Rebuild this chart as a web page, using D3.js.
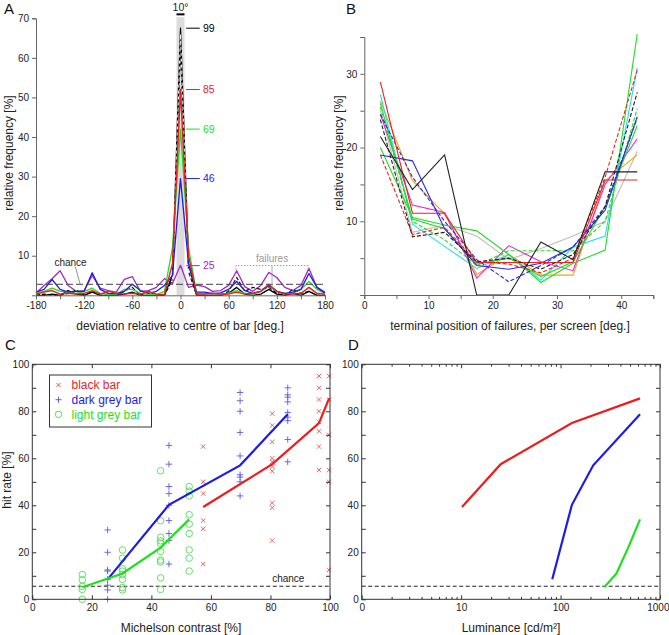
<!DOCTYPE html>
<html>
<head>
<meta charset="utf-8">
<script src="https://cdn.jsdelivr.net/npm/d3@7"></script>
<style>
  body { margin: 0; background: #fff; }
  svg { font-family: "Liberation Sans", Arial, sans-serif; }
  .tick text { font-size: 10px; fill: #222; }
  .axA path, .axA line { stroke: #666; }
  .box path, .box line { stroke: #333; }
</style>
</head>
<body>
<svg id="fig" width="669" height="635"></svg>
<script>
// ---- panel A: deviation histograms (10 deg bins)
var angleBins = d3.range(-180, 181, 10);
var devBlack99 = [0, 0, 0.3, 0, 1.2, 0.3, 0, 0.8, 0, 0, 0, 0.3, 0.8, 0, 0, 0, 0, 5.0, 67.5, 8.0, 0, 0, 0, 0, 0.5, 2.0, 0.3, 0, 0.3, 1.5, 0.3, 0, 0.5, 0, 1.0, 0, 0];
var devBlackDash = [0, 0.3, 0, 0, 0.5, 1.3, 0, 1.0, 0, 0, 0, 1.0, 2.0, 0, 1.0, 0, 0, 4.0, 63.0, 6.0, 0, 0, 0, 0, 1.0, 4.5, 1.0, 2.0, 1.5, 2.0, 0.5, 0, 1.5, 0.5, 1.0, 0, 0];
var devWhiteDash = [null, null, null, null, null, null, null, null, null, null, null, null, null, null, null, null, null, 4.0, 66.0, 6.0, null, null, null, null, null, null, null, null, null, null, null, null, null, null, null, null, null];
var devPurple25 = [0.6, 2.5, 4.2, 6.2, 2.5, 1.0, 1.2, 5.0, 1.8, 1.2, 0.8, 4.0, 4.7, 1.0, 1.2, 2.0, 4.2, 3.0, 7.6, 2.0, 2.6, 2.2, 1.0, 1.2, 2.5, 6.2, 2.2, 1.0, 2.5, 5.8, 4.5, 2.0, 1.2, 2.5, 6.8, 2.0, 0.8];
var devBlue46 = [0.8, 1.5, 4.0, 1.5, 0.8, 1.0, 1.0, 5.7, 1.5, 0.5, 0.4, 1.0, 2.8, 1.2, 0.5, 1.0, 2.5, 5.0, 29.5, 8.0, 0.8, 0.8, 0.4, 0.6, 1.5, 3.5, 1.2, 0.5, 1.0, 2.5, 1.0, 0.5, 0.8, 1.5, 5.5, 2.0, 0.5];
var devGreen69 = [0.5, 1.0, 1.8, 1.0, 0.8, 0.5, 1.0, 1.8, 0.5, 0.3, 0.2, 1.5, 1.5, 0.5, 0.3, 0.2, 1.0, 12.0, 42.0, 12.0, 0.5, 0.5, 0.5, 0.3, 0.5, 1.2, 0.5, 0.3, 1.0, 2.5, 1.0, 0.5, 0.5, 1.5, 3.5, 1.5, 0.5];
var devRed85 = [0.3, 0.8, 1.2, 0.3, 0.5, 0.3, 0.5, 1.2, 0.3, 1.0, 0.5, 0.3, 0.5, 0.3, 1.0, 0.3, 0.2, 8.0, 52.0, 10.0, 0.3, 0.3, 0.5, 0.3, 0.3, 0.8, 0.3, 0.5, 1.0, 2.8, 1.0, 0.3, 0.3, 0.5, 2.0, 0.5, 0.3];
var peakLabels = ["99", "85", "69", "46", "25"];
var peakValues = [67.5, 52, 42, 29.5, 7.5];
var chanceA = 100 / 36;

// ---- panel B: terminal positions of failures
var termPos = [2.5, 7.5, 12.5, 17.5, 22.5, 27.5, 32.5, 37.5, 42.5];
var termGrey = [25.0, 8.5, 9.5, 8.0, 4.8, 6.3, 8.0, 10.0, 19.5];
var termOrange = [26.3, 15.5, 11.0, 2.8, 5.5, 2.7, 2.7, 15.5, 19.0];
var termMagenta = [24.5, 12.2, 11.2, 2.3, 6.7, 4.5, 3.3, 15.0, 21.2];
var termCyan = [27.2, 9.6, 6.6, 3.6, 5.5, 2.0, 6.5, 8.0, 30.8];
var termGreen1 = [20.0, 10.5, 9.5, 8.7, 5.5, 1.7, 4.3, 6.1, 35.4];
var termGreen2 = [26.0, 10.3, 9.0, 4.2, 5.0, 2.5, 4.5, 12.0, 23.0];
var termGreenDash = [25.5, 10.0, 7.5, 4.0, 6.0, 6.0, 6.0, 10.0, 25.3];
var termBlue = [19.0, 18.2, 9.0, 4.0, 3.5, 4.3, 6.5, 11.5, 24.2];
var termBlueDash = [24.5, 16.0, 10.0, 4.8, 1.8, 4.0, 6.5, 12.0, 24.0];
var termRed = [28.9, 11.1, 11.1, 4.4, 4.4, 4.4, 4.4, 15.6, 15.6];
var termRedDash = [19.0, 8.2, 9.2, 4.5, 4.2, 3.0, 5.0, 16.0, 30.5];
var termBlackDash = [23.8, 7.9, 8.5, 4.5, 5.0, 3.5, 5.5, 12.0, 27.5];
var termBlack = [21.5, 14.3, 19.0, 0, 0, 7.2, 4.8, 16.7, 16.7];

// ---- panel C: hit rate vs contrast
var blackBarContrast = [57.4, 80.6, 96.3, 99.7];
var blackBarHits = [[65, 50, 45, 33.5, 30, 15], [79, 74, 67, 60, 58.5, 56.5, 54.5, 41, 39, 25], [95, 90, 85, 80, 75.5, 71.5, 65, 55], [95, 85, 70, 55, 50, 12.5]];
var blackBarMean = [39.3, 57.5, 75, 85.5];
var darkBarContrast = [25.3, 45.9, 69.8, 85.8];
var darkBarHits = [[29.5, 20, 12.5, 12, 8.5, 6, 4, 0], [65.5, 57.5, 48, 45, 40, 33.5, 28, 25, 15], [88, 84.5, 80, 71, 61, 53, 52, 50, 44], [90, 87, 86, 84, 79.5, 77.5, 76, 68, 58.5]];
var darkBarMean = [8.5, 40.2, 57, 78.7];
var lightBarContrast = [16.8, 30.3, 43.1, 52.7];
var lightBarHits = [[10.5, 8.3, 5.5, 4.2, 0], [21, 17.5, 13, 12, 10.5, 8.5, 5, 4], [54.7, 33.4, 26.4, 24.9, 23.8, 20.4, 16.7, 15.9, 9.1, 4.2], [48, 46, 44, 36, 32, 28, 21, 17.5, 12]];
var lightBarMean = [5.1, 11, 22, 34];
var legendNames = ["black bar", "dark grey bar", "light grey bar"];
var chanceC = 100 / 18;

// ---- panel D: hit rate vs luminance
var blackBarLum = [10.2, 25, 130, 630];
var darkBarLum = [82.5, 130, 213, 630];
var lightBarLum = [275, 365, 479, 630];

var RED = "#ee1c1c", BLUE = "#1c1ce6", GREEN = "#1ee01e", PURPLE = "#a428c8";

var svg = d3.select("#fig");

function panelLetter(x, y, t) {
    svg.append("text").attr("x", x).attr("y", y).attr("font-size", 15).attr("fill", "#111").text(t);
}

// ================= A =================
(function () {
    var x = d3.scaleLinear().domain([-180, 180]).range([36, 325]);
    var y = d3.scaleLinear().domain([0, 70]).range([295.3, 18.3]);
    var g = svg.append("g");

    // grey 10 deg band
    g.append("rect").attr("x", x(-5)).attr("y", y(70.3)).attr("width", x(5) - x(-5))
        .attr("height", y(0) - y(70.3)).attr("fill", "#dcdcdc");
    g.append("line").attr("x1", x(-5)).attr("x2", x(5)).attr("y1", y(71)).attr("y2", y(71))
        .attr("stroke", "#000").attr("stroke-width", 2);
    g.append("text").attr("x", x(0)).attr("y", 11).attr("text-anchor", "middle")
        .attr("font-size", 10.5).attr("fill", "#222").text("10°");

    var line = d3.line().defined(function (d) { return d[1] != null; })
        .x(function (d) { return x(d[0]); }).y(function (d) { return y(d[1]); });

    var series = [
        { v: devPurple25, c: PURPLE, w: 1.3 },
        { v: devBlackDash, c: "#111", w: 1.2, dash: "4,2" },
        { v: devBlack99, c: "#000", w: 1.3 },
        { v: devWhiteDash, c: "#fff", w: 1, dash: "3,3" },
        { v: devGreen69, c: GREEN, w: 1.3 },
        { v: devBlue46, c: BLUE, w: 1.3 },
        { v: devRed85, c: RED, w: 1.4 }
    ];
    series.forEach(function (s) {
        g.append("path").datum(angleBins.map(function (a, i) { return [a, s.v[i]]; }))
            .attr("d", line).attr("fill", "none").attr("stroke", s.c)
            .attr("stroke-width", s.w).attr("stroke-dasharray", s.dash || null)
            .attr("stroke-linejoin", "round");
    });

    // chance
    g.append("line").attr("x1", x(-180)).attr("x2", x(180)).attr("y1", y(chanceA)).attr("y2", y(chanceA))
        .attr("stroke", "#444").attr("stroke-dasharray", "7,3").attr("stroke-width", 1);
    g.append("text").attr("x", x(-137)).attr("y", y(8.3) + 4).attr("text-anchor", "middle")
        .attr("font-size", 10).attr("fill", "#222").text("chance");
    g.append("line").attr("x1", x(-131)).attr("y1", y(7.2)).attr("x2", x(-125)).attr("y2", y(chanceA))
        .attr("stroke", "#777").attr("stroke-width", 0.8);

    // failures bracket
    g.append("path").attr("d", "M" + x(69) + "," + y(6.5) + "V" + y(7.5) + "H" + x(159) + "V" + y(6.5))
        .attr("fill", "none").attr("stroke", "#999").attr("stroke-dasharray", "1.5,1.5");
    g.append("line").attr("x1", x(114)).attr("x2", x(114)).attr("y1", y(7.5)).attr("y2", y(1.5))
        .attr("stroke", "#999").attr("stroke-width", 0.8);
    g.append("text").attr("x", x(114)).attr("y", y(9.3) + 4).attr("text-anchor", "middle")
        .attr("font-size", 10).attr("fill", "#999").text("failures");

    // peak labels
    var labCol = ["#000", RED, GREEN, BLUE, PURPLE];
    peakLabels.forEach(function (t, i) {
        g.append("line").attr("x1", x(7)).attr("x2", x(24)).attr("y1", y(peakValues[i])).attr("y2", y(peakValues[i]))
            .attr("stroke", labCol[i]).attr("stroke-width", 1);
        g.append("text").attr("x", x(28)).attr("y", y(peakValues[i]) + 3.5).attr("font-size", 10.5)
            .attr("fill", labCol[i]).text(t);
    });

    g.append("g").attr("class", "axA").attr("transform", "translate(0," + y(0) + ")")
        .call(d3.axisBottom(x).tickValues(d3.range(-180, 181, 30)).tickSizeOuter(0).tickSize(4)
            .tickFormat(function (d) { return d % 60 === 0 ? d : ""; }));
    g.append("g").attr("class", "axA").attr("transform", "translate(" + x(-180) + ",0)")
        .call(d3.axisLeft(y).tickValues(d3.range(10, 71, 10)).tickSizeOuter(0).tickSize(4));

    g.append("text").attr("x", 180).attr("y", 330).attr("text-anchor", "middle").attr("font-size", 12)
        .attr("fill", "#222").text("deviation relative to centre of bar [deg.]");
    g.append("text").attr("transform", "translate(13,153) rotate(-90)").attr("text-anchor", "middle")
        .attr("font-size", 12).attr("fill", "#222").text("relative frequency [%]");
    panelLetter(4, 14, "A");
})();

// ================= B =================
(function () {
    var x = d3.scaleLinear().domain([0, 45]).range([364.3, 653.3]);
    var y = d3.scaleLinear().domain([0, 35]).range([295, 37]);
    var g = svg.append("g");
    var line = d3.line().x(function (d) { return x(d[0]); }).y(function (d) { return y(d[1]); });

    var series = [
        { v: termGrey, c: "#bdbdbd" },
        { v: termOrange, c: "#ffa200" },
        { v: termMagenta, c: "#f020e0" },
        { v: termCyan, c: "#20e0f0" },
        { v: termGreen2, c: "#22dd22" },
        { v: termGreenDash, c: "#22dd22", dash: "4,2" },
        { v: termGreen1, c: "#22dd22" },
        { v: termBlueDash, c: "#2a2ae0", dash: "4,2" },
        { v: termBlue, c: "#2a2ae0" },
        { v: termRedDash, c: "#ee2020", dash: "4,2" },
        { v: termRed, c: "#ee2020" },
        { v: termBlackDash, c: "#222", dash: "4,2" },
        { v: termBlack, c: "#222" }
    ];
    series.forEach(function (s) {
        g.append("path").datum(termPos.map(function (p, i) { return [p, s.v[i]]; }))
            .attr("d", line).attr("fill", "none").attr("stroke", s.c).attr("stroke-width", 1.1)
            .attr("stroke-dasharray", s.dash || null);
    });

    g.append("g").attr("class", "axA").attr("transform", "translate(0," + y(0) + ")")
        .call(d3.axisBottom(x).tickValues(d3.range(0, 46, 5)).tickSizeOuter(0).tickSize(4)
            .tickFormat(function (d) { return d % 10 === 0 ? d : ""; }));
    g.append("g").attr("class", "axA").attr("transform", "translate(" + x(0) + ",0)")
        .call(d3.axisLeft(y).tickValues(d3.range(0, 36, 5)).tickSizeOuter(0).tickSize(4)
            .tickFormat(function (d) { return d > 0 && d % 10 === 0 ? d : ""; }));

    g.append("text").attr("x", 510).attr("y", 330).attr("text-anchor", "middle").attr("font-size", 12)
        .attr("fill", "#222").text("terminal position of failures, per screen [deg.]");
    g.append("text").attr("transform", "translate(343,153) rotate(-90)").attr("text-anchor", "middle")
        .attr("font-size", 12).attr("fill", "#222").text("relative frequency [%]");
    panelLetter(346, 14, "B");
})();

// helper for boxed C / D frames
function boxAxes(g, x, y, xTicks, xFmt) {
    var y0 = y.range()[0], y1 = y.range()[1], x0 = x.range()[0], x1 = x.range()[1];
    g.append("rect").attr("x", x0).attr("y", y1).attr("width", x1 - x0).attr("height", y0 - y1)
        .attr("fill", "none").attr("stroke", "#333");
    g.append("g").attr("class", "box bottom").attr("transform", "translate(0," + y0 + ")")
        .call(d3.axisBottom(x).tickValues(xTicks).tickSizeInner(-4).tickSizeOuter(0).tickPadding(5).tickFormat(xFmt));
    g.append("g").attr("class", "box").attr("transform", "translate(0," + y1 + ")")
        .call(d3.axisTop(x).tickValues(xTicks).tickSizeInner(-4).tickSizeOuter(0).tickFormat(""));
    g.append("g").attr("class", "box").attr("transform", "translate(" + x0 + ",0)")
        .call(d3.axisLeft(y).tickValues(d3.range(0, 101, 10)).tickSizeInner(-4).tickSizeOuter(0).tickPadding(3)
            .tickFormat(function (d) { return d % 20 === 0 ? d : ""; }));
    g.append("g").attr("class", "box").attr("transform", "translate(" + x1 + ",0)")
        .call(d3.axisRight(y).tickValues(d3.range(0, 101, 10)).tickSizeInner(-4).tickSizeOuter(0).tickFormat(""));
    g.selectAll(".box .domain").remove();
}

// ================= C =================
(function () {
    var x = d3.scaleLinear().domain([0, 100]).range([32.3, 330]);
    var y = d3.scaleLinear().domain([0, 100]).range([599.3, 364.3]);
    var g = svg.append("g");
    var line = d3.line().x(function (d) { return x(d[0]); }).y(function (d) { return y(d[1]); });

    g.append("line").attr("x1", x(0)).attr("x2", x(100)).attr("y1", y(chanceC)).attr("y2", y(chanceC))
        .attr("stroke", "#222").attr("stroke-dasharray", "4,2.5");
    g.append("text").attr("x", x(86)).attr("y", y(chanceC) - 4).attr("text-anchor", "middle")
        .attr("font-size", 10).attr("fill", "#222").text("chance");

    function pts(xs, hits) {
        var out = [];
        xs.forEach(function (c, i) { hits[i].forEach(function (h) { out.push([c, h]); }); });
        return out;
    }
    // markers
    g.selectAll(".xm").data(pts(blackBarContrast, blackBarHits)).enter().append("path")
        .attr("d", function (d) { var a = x(d[0]), b = y(d[1]), r = 2.2; return "M" + (a - r) + "," + (b - r) + "L" + (a + r) + "," + (b + r) + "M" + (a - r) + "," + (b + r) + "L" + (a + r) + "," + (b - r); })
        .attr("stroke", "#f05050").attr("stroke-width", 0.9);
    g.selectAll(".pm").data(pts(darkBarContrast, darkBarHits)).enter().append("path")
        .attr("d", function (d) { var a = x(d[0]), b = y(d[1]), r = 3.2; return "M" + (a - r) + "," + b + "H" + (a + r) + "M" + a + "," + (b - r) + "V" + (b + r); })
        .attr("stroke", "#5a5ae8").attr("stroke-width", 0.9);
    g.selectAll(".om").data(pts(lightBarContrast, lightBarHits)).enter().append("circle")
        .attr("cx", function (d) { return x(d[0]); }).attr("cy", function (d) { return y(d[1]); }).attr("r", 3.3)
        .attr("fill", "none").attr("stroke", "#55dd55").attr("stroke-width", 0.9);

    // means
    [[blackBarContrast, blackBarMean, RED], [darkBarContrast, darkBarMean, BLUE], [lightBarContrast, lightBarMean, GREEN]]
        .forEach(function (s) {
            g.append("path").datum(s[0].map(function (c, i) { return [c, s[1][i]]; }))
                .attr("d", line).attr("fill", "none").attr("stroke", s[2]).attr("stroke-width", 2.2);
        });

    boxAxes(g, x, y, d3.range(0, 101, 20), function (d) { return d; });

    // legend
    var lg = g.append("g");
    lg.append("rect").attr("x", 49.5).attr("y", 375).attr("width", 102).attr("height", 52)
        .attr("fill", "#fff").attr("stroke", "#333");
    var lc = [RED, BLUE, GREEN];
    legendNames.forEach(function (n, i) {
        var cy = 385 + i * 14.7, cx = 58.5;
        if (i === 0) lg.append("path").attr("d", "M" + (cx - 2) + "," + (cy - 2) + "L" + (cx + 2) + "," + (cy + 2) + "M" + (cx - 2) + "," + (cy + 2) + "L" + (cx + 2) + "," + (cy - 2)).attr("stroke", "#f05050");
        if (i === 1) lg.append("path").attr("d", "M" + (cx - 3) + "," + cy + "H" + (cx + 3) + "M" + cx + "," + (cy - 3) + "V" + (cy + 3)).attr("stroke", "#5a5ae8");
        if (i === 2) lg.append("circle").attr("cx", cx).attr("cy", cy).attr("r", 3.2).attr("fill", "none").attr("stroke", "#55dd55");
        lg.append("text").attr("x", 71.5).attr("y", cy + 4.3).attr("font-size", 12).attr("fill", lc[i]).text(n);
    });

    g.append("text").attr("x", 181).attr("y", 632).attr("text-anchor", "middle").attr("font-size", 12)
        .attr("fill", "#222").text("Michelson contrast [%]");
    g.append("text").attr("transform", "translate(11,480) rotate(-90)").attr("text-anchor", "middle")
        .attr("font-size", 12).attr("fill", "#222").text("hit rate [%]");
    panelLetter(5, 350, "C");
})();

// ================= D =================
(function () {
    var x = d3.scaleLog().domain([1, 1000]).range([361.7, 660]);
    var y = d3.scaleLinear().domain([0, 100]).range([599.3, 364.3]);
    var g = svg.append("g");
    var line = d3.line().x(function (d) { return x(d[0]); }).y(function (d) { return y(d[1]); });

    g.append("line").attr("x1", x(1)).attr("x2", x(1000)).attr("y1", y(chanceC)).attr("y2", y(chanceC))
        .attr("stroke", "#222").attr("stroke-dasharray", "4,2.5");

    [[blackBarLum, blackBarMean, RED], [darkBarLum, darkBarMean, BLUE], [lightBarLum, lightBarMean, GREEN]]
        .forEach(function (s) {
            g.append("path").datum(s[0].map(function (c, i) { return [c, s[1][i]]; }))
                .attr("d", line).attr("fill", "none").attr("stroke", s[2]).attr("stroke-width", 2.2);
        });

    var logTicks = [];
    [1, 10, 100].forEach(function (p) { for (var k = 1; k < 10; k++) logTicks.push(p * k); });
    logTicks.push(1000);
    boxAxes(g, x, y, logTicks, function (d) {
        return d === 1 ? "0" : (d === 10 || d === 100 || d === 1000 ? d : "");
    });
    // shorter minor ticks
    g.selectAll(".box .tick").filter(function (d) { return [1, 10, 100, 1000].indexOf(d) < 0; })
        .select("line").attr("y2", function () { return +d3.select(this).attr("y2") * 0.6; });
    // keep the last label inside the page
    g.selectAll(".bottom .tick").filter(function (d) { return d === 1000; })
        .select("text").attr("text-anchor", "end").attr("dx", 9);

    g.append("text").attr("x", 511).attr("y", 632).attr("text-anchor", "middle").attr("font-size", 12)
        .attr("fill", "#222").text("Luminance [cd/m²]");
    panelLetter(348, 350, "D");
})();
</script>
</body>
</html>
